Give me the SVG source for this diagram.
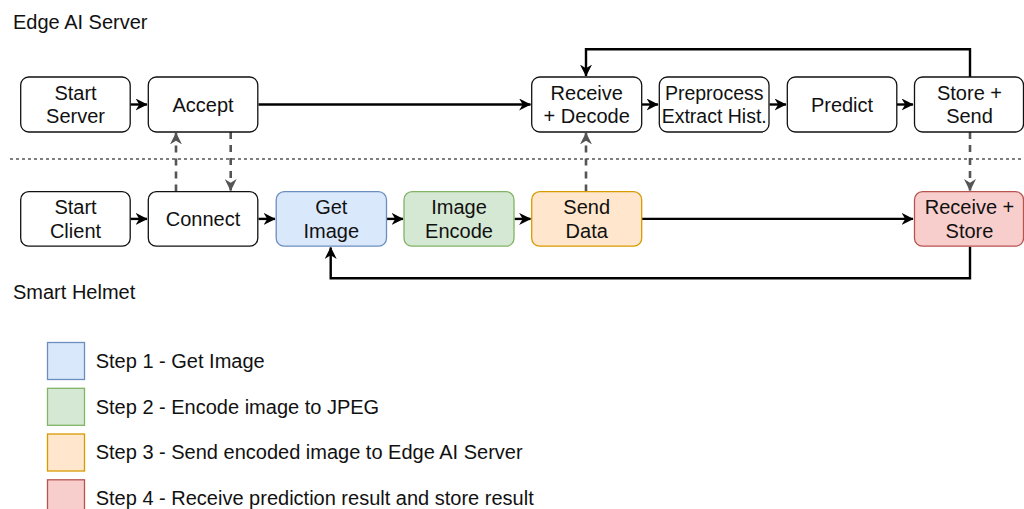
<svg xmlns="http://www.w3.org/2000/svg" width="1024" height="509" viewBox="0 0 1024 509">
<style>
.t{font-family:"Liberation Sans",Arial,sans-serif;font-size:20px;fill:#111;text-anchor:middle}
.lbl{font-family:"Liberation Sans",Arial,sans-serif;font-size:20px;fill:#111}
.box{fill:#fff;stroke:#111;stroke-width:1.3}
.blue{fill:#dae8fc;stroke:#6c8ebf;stroke-width:1.3}
.green{fill:#d5e8d4;stroke:#82b366;stroke-width:1.3}
.orange{fill:#ffe6cc;stroke:#d79b00;stroke-width:1.3}
.red{fill:#f8cecc;stroke:#b85450;stroke-width:1.3}
.c{fill:none;stroke:#000;stroke-width:2.4}
.d{fill:none;stroke:#555;stroke-width:2.6;stroke-dasharray:7 6}
</style>
<defs>
<marker id="ah" viewBox="0 0 10 10" refX="9.5" refY="5" markerWidth="12" markerHeight="12" markerUnits="userSpaceOnUse" orient="auto">
<path d="M0,0 L10,5 L0,10 L3,5 z" fill="#000"/>
</marker>
<marker id="ahg" viewBox="0 0 10 10" refX="9.5" refY="5" markerWidth="12" markerHeight="12" markerUnits="userSpaceOnUse" orient="auto">
<path d="M0,0 L10,5 L0,10 L3,5 z" fill="#555"/>
</marker>
</defs>
<rect width="1024" height="509" fill="#fff"/>
<text class="lbl" x="13" y="29">Edge AI Server</text>
<text class="lbl" x="13" y="298.5">Smart Helmet</text>
<line x1="10" y1="159" x2="1024" y2="159" stroke="#000" stroke-width="1" stroke-dasharray="3 3"/>
<g id="connectors">
<path class="c" d="M130.5,104.5 H147" marker-end="url(#ah)"/>
<path class="c" d="M258.5,104.5 H530.5" marker-end="url(#ah)"/>
<path class="c" d="M642,104.5 H658" marker-end="url(#ah)"/>
<path class="c" d="M769.5,104.5 H786" marker-end="url(#ah)"/>
<path class="c" d="M897,104.5 H913" marker-end="url(#ah)"/>
<path class="c" d="M970,77 V49.3 H586 V76" marker-end="url(#ah)"/>
<path class="c" d="M130.5,218.9 H147" marker-end="url(#ah)"/>
<path class="c" d="M258.5,218.9 H275" marker-end="url(#ah)"/>
<path class="c" d="M387,218.9 H403" marker-end="url(#ah)"/>
<path class="c" d="M514.5,218.9 H530.5" marker-end="url(#ah)"/>
<path class="c" d="M642,218.9 H913" marker-end="url(#ah)"/>
<path class="c" d="M970,246.5 V278.3 H330.7 V247.5" marker-end="url(#ah)"/>
<path class="d" d="M176,191.5 V133" marker-end="url(#ahg)"/>
<path class="d" d="M230.7,132 V190.5" marker-end="url(#ahg)"/>
<path class="d" d="M586,191.5 V133" marker-end="url(#ahg)"/>
<path class="d" d="M970,132 V190.5" marker-end="url(#ahg)"/>
</g>
<g id="start-server"><rect class="box" x="20.7" y="77" width="109.5" height="55" rx="8"/><text class="t" x="75.5" y="100">Start</text><text class="t" x="75.5" y="123.3">Server</text></g>
<g id="accept"><rect class="box" x="148.3" y="77" width="109.5" height="55" rx="8"/><text class="t" x="203" y="111.5">Accept</text></g>
<g id="receive-decode"><rect class="box" x="531.7" y="77" width="110" height="55" rx="8"/><text class="t" x="586.7" y="100">Receive</text><text class="t" x="586.7" y="123.3">+ Decode</text></g>
<g id="preprocess"><rect class="box" x="659.3" y="77" width="109.7" height="55" rx="8"/><text class="t" x="714.2" y="100" style="font-size:19.5px">Preprocess</text><text class="t" x="714.2" y="123.3" style="font-size:19.5px">Extract Hist.</text></g>
<g id="predict"><rect class="box" x="787.3" y="77" width="109.5" height="55" rx="8"/><text class="t" x="842" y="111.5">Predict</text></g>
<g id="store-send"><rect class="box" x="914.5" y="77" width="109" height="55" rx="8"/><text class="t" x="969.5" y="100">Store +</text><text class="t" x="969.5" y="123.3">Send</text></g>
<g id="start-client"><rect class="box" x="20.7" y="191.7" width="109.5" height="54.5" rx="8"/><text class="t" x="75.5" y="214.3">Start</text><text class="t" x="75.5" y="237.6">Client</text></g>
<g id="connect"><rect class="box" x="148.3" y="191.7" width="109.5" height="54.5" rx="8"/><text class="t" x="203" y="225.8">Connect</text></g>
<g id="get-image"><rect class="blue" x="276.2" y="191.7" width="110.3" height="54.5" rx="8"/><text class="t" x="331.3" y="214.3">Get</text><text class="t" x="331.3" y="237.6">Image</text></g>
<g id="image-encode"><rect class="green" x="404" y="191.7" width="110" height="54.5" rx="8"/><text class="t" x="459" y="214.3">Image</text><text class="t" x="459" y="237.6">Encode</text></g>
<g id="send-data"><rect class="orange" x="531.7" y="191.7" width="110" height="54.5" rx="8"/><text class="t" x="586.7" y="214.3">Send</text><text class="t" x="586.7" y="237.6">Data</text></g>
<g id="receive-store"><rect class="red" x="914.5" y="191.7" width="109" height="54.5" rx="8"/><text class="t" x="969.5" y="214.3">Receive +</text><text class="t" x="969.5" y="237.6">Store</text></g>
<g id="legend">
<rect class="blue" x="47.5" y="342.5" width="37" height="37"/><text class="lbl" x="95.7" y="367.7">Step 1 - Get Image</text>
<rect class="green" x="47.5" y="388.3" width="37" height="37"/><text class="lbl" x="95.7" y="413.5">Step 2 - Encode image to JPEG</text>
<rect class="orange" x="47.5" y="434" width="37" height="37"/><text class="lbl" x="95.7" y="459.2">Step 3 - Send encoded image to Edge AI Server</text>
<rect class="red" x="47.5" y="479.8" width="37" height="37"/><text class="lbl" x="95.7" y="505">Step 4 - Receive prediction result and store result</text>
</g>
</svg>
